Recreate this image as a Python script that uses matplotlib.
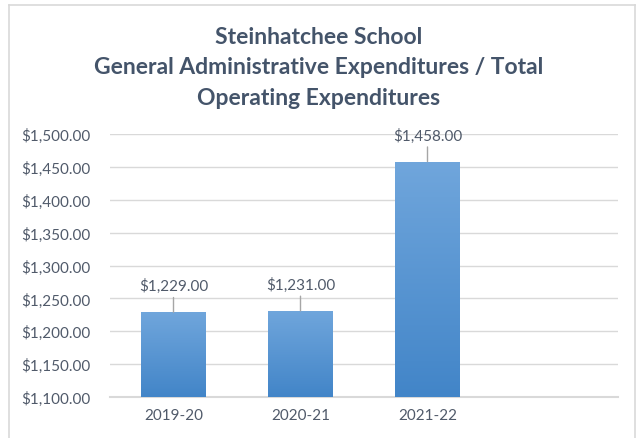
import matplotlib
matplotlib.use("Agg")
import matplotlib.pyplot as plt
import matplotlib.lines as mlines
import numpy as np
from matplotlib.colors import LinearSegmentedColormap
from matplotlib.ticker import FuncFormatter, MultipleLocator

# data
years = ["2019-20", "2020-21", "2021-22", ""]
costs = [1229.00, 1231.00, 1458.00]

TITLE = "Steinhatchee School\nGeneral Administrative Expenditures / Total\nOperating Expenditures"
TITLE_COLOR = "#44546A"
TEXT_COLOR = "#505A6A"
GRID = "#D9D9D9"
BORDER = "#D9D9D9"

plt.rcParams["font.family"] = ["Lato", "DejaVu Sans"]

fig = plt.figure(figsize=(6.37, 4.39), dpi=100, facecolor="white")
ax = fig.add_axes([110 / 637, 1 - 398 / 439, 508 / 637, 263 / 439])

x = np.arange(len(years))
bars = ax.bar(x[:len(costs)], costs, width=0.51, color="#5B9BD5", zorder=2)

# vertical gradient fill, lighter at the top
grad = LinearSegmentedColormap.from_list("bar", ["#4285C8", "#70A6DC"])
for b in bars:
    x0, y0 = b.get_x(), 1100
    x1, y1 = x0 + b.get_width(), b.get_height()
    img = ax.imshow(np.linspace(0, 1, 256).reshape(-1, 1), cmap=grad,
                    extent=[x0, x1, y0, y1], origin="lower", aspect="auto", zorder=3)
    img.set_clip_path(b)

# data labels with leader lines
for xi, v in zip(x, costs):
    ax.annotate(f"${v:,.2f}", xy=(xi, v), xytext=(0, 19), textcoords="offset points",
                ha="center", va="center", fontsize=11, color=TEXT_COLOR,
                arrowprops=dict(arrowstyle="-", color="#A6A6A6", lw=1, shrinkA=1, shrinkB=0),
                zorder=4)

ax.set_xlim(-0.5, len(years) - 0.5)
ax.set_ylim(1100, 1500)
ax.set_xticks(x)
ax.set_xticklabels(years)
ax.yaxis.set_major_locator(MultipleLocator(50))
ax.yaxis.set_major_formatter(FuncFormatter(lambda v, _: f"${v:,.2f}"))
ax.tick_params(axis="both", length=0, labelsize=11, colors=TEXT_COLOR)
ax.tick_params(axis="y", pad=14)
ax.tick_params(axis="x", pad=8)
ax.grid(axis="y", color=GRID, lw=1, zorder=0)
for s in ["top", "right", "left"]:
    ax.spines[s].set_visible(False)
ax.spines["bottom"].set_color(GRID)
ax.spines["bottom"].set_linewidth(1.5)

fig.text(0.5, 1 - 68 / 439, TITLE, ha="center", va="center", fontsize=16.5,
         fontweight="bold", color=TITLE_COLOR, linespacing=1.58)

# light chart-area border (bottom edge falls outside the picture)
for xs, ys in [([9, 9], [460, 6]), ([9, 635], [6, 6]), ([635, 635], [6, 460])]:
    fig.add_artist(mlines.Line2D([v / 637 for v in xs], [1 - v / 439 for v in ys],
                                 transform=fig.transFigure, color=BORDER, lw=1.2))

fig.savefig("out.png", dpi=100, facecolor="white")
